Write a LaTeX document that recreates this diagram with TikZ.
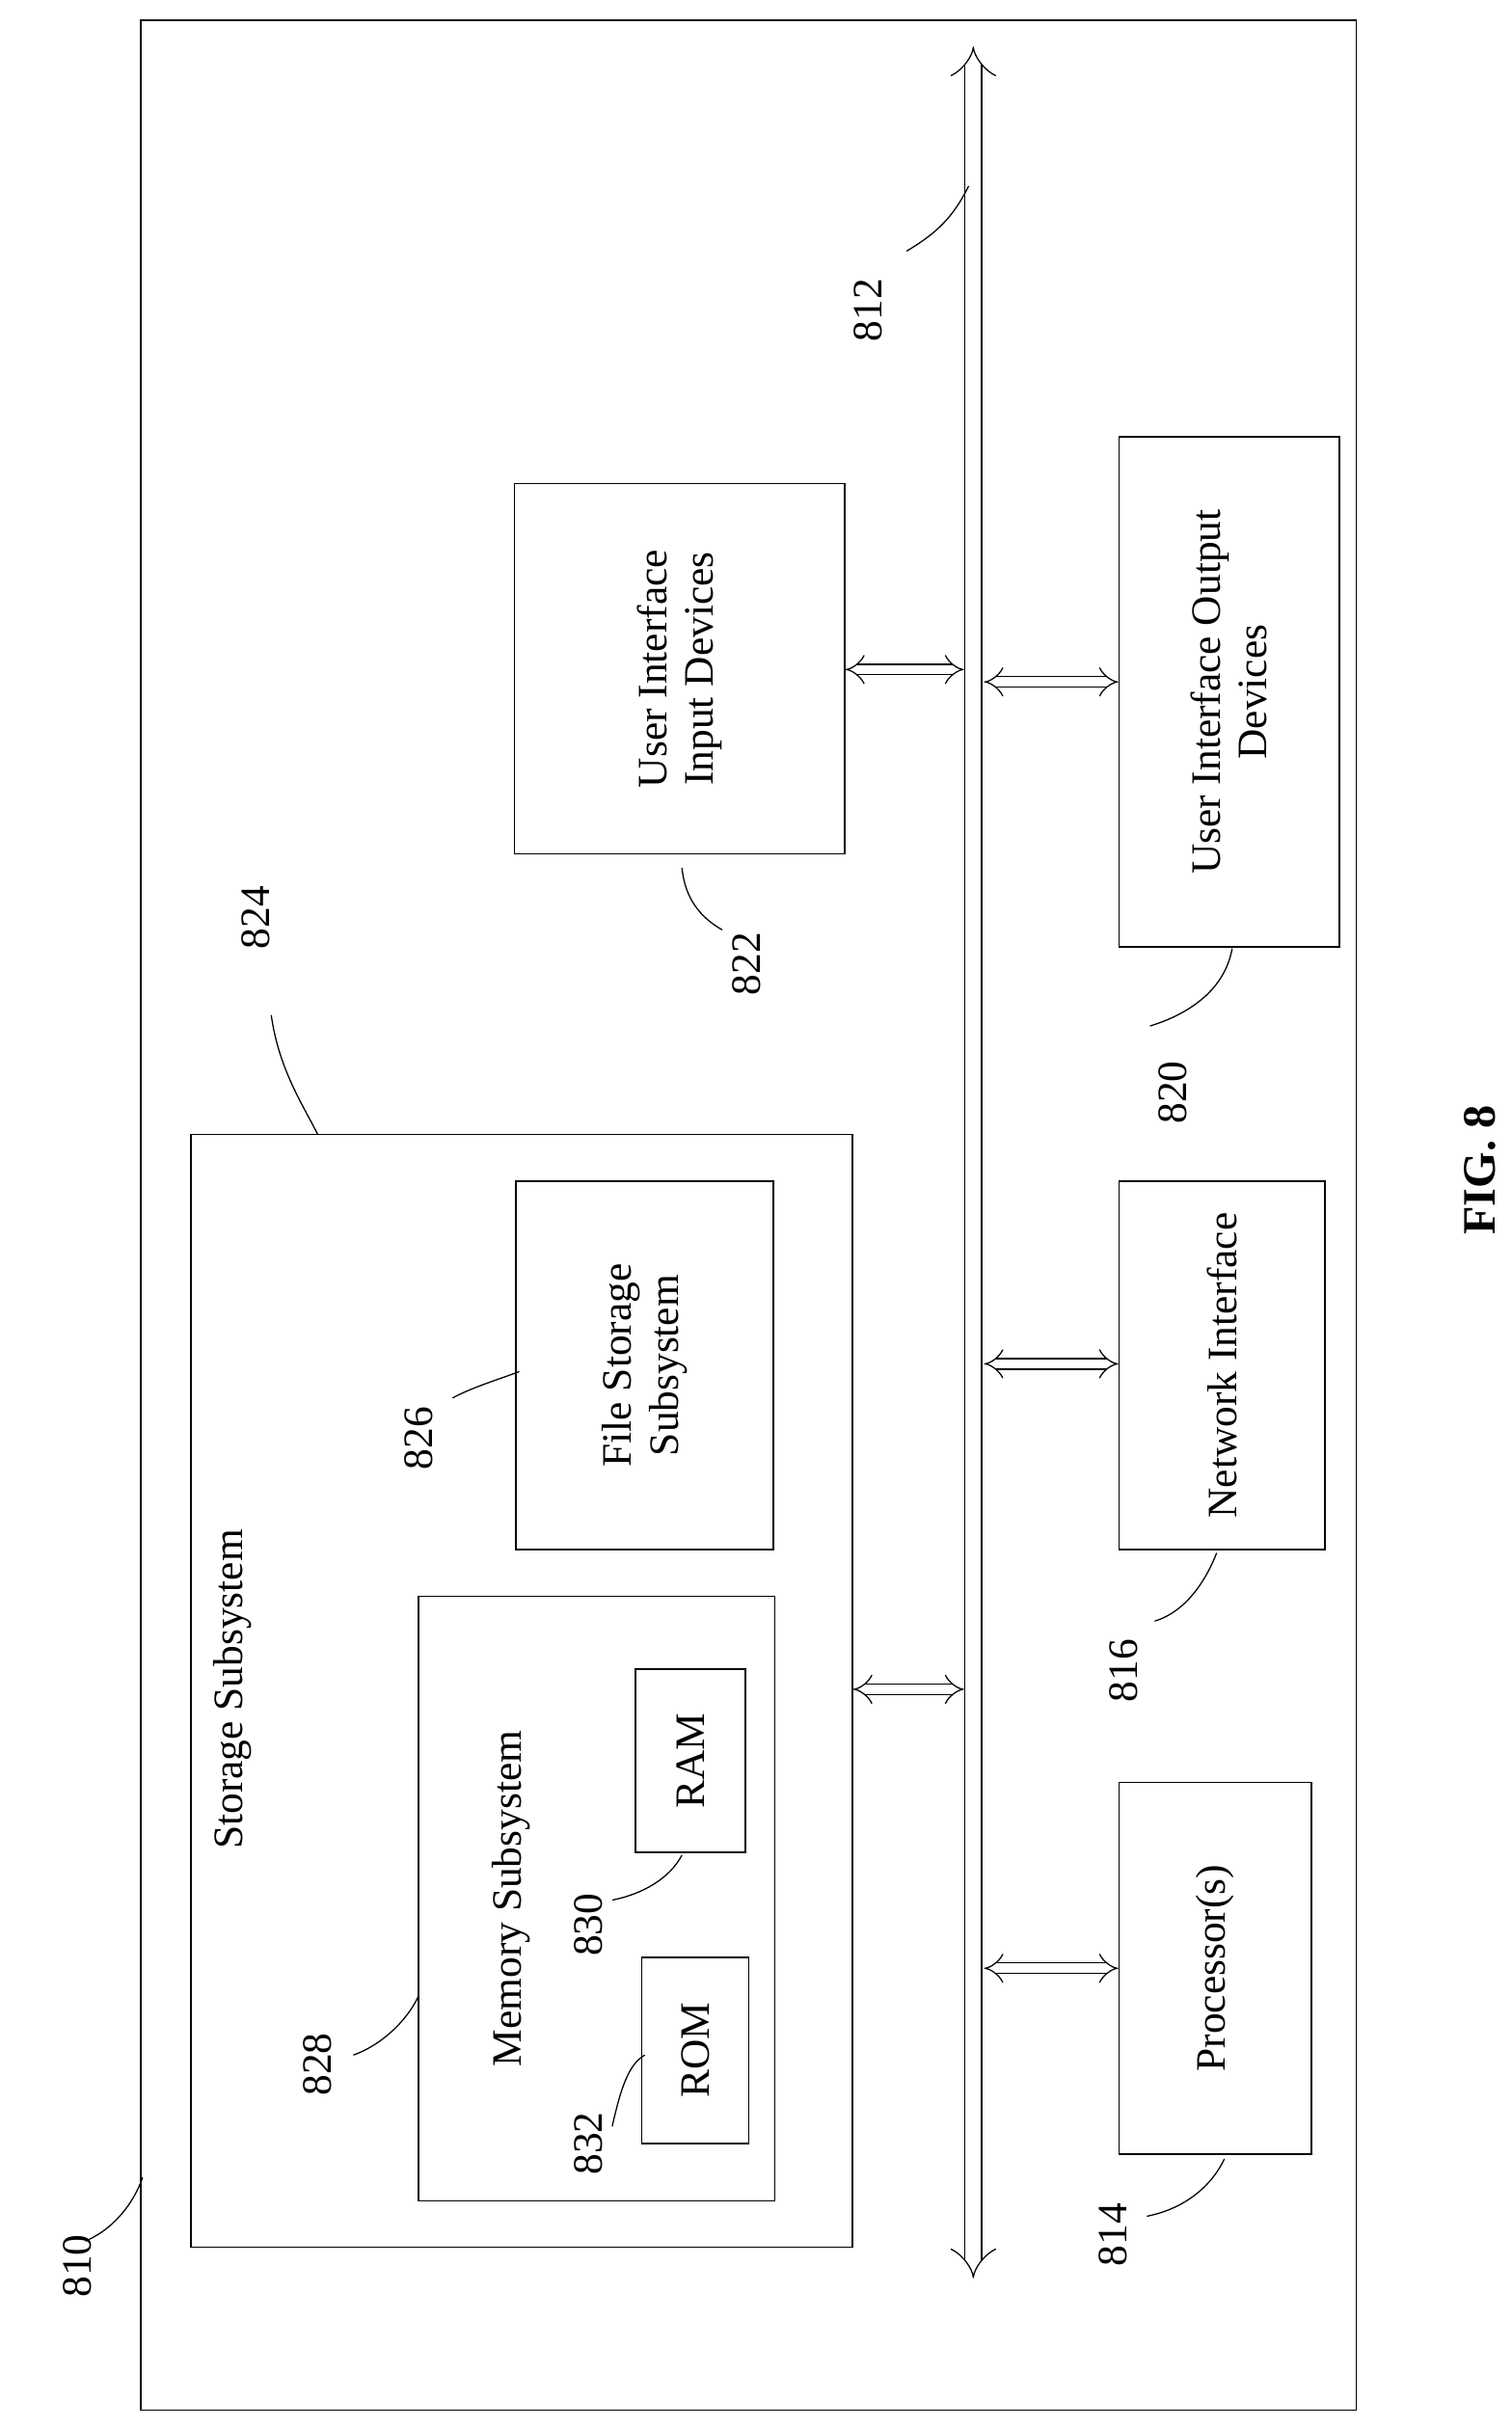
\documentclass[tikz,border=0pt]{standalone}
\usepackage{fontspec}
\setmainfont{Liberation Serif}
\usetikzlibrary{arrows.meta}
\tikzset{
  box/.style={draw=black,line width=1pt},
  lbl/.style={rotate=90,font=\fontsize{27}{30}\selectfont,align=center},
  link/.style={double,double distance=6pt,line width=0.8pt,{Implies}-{Implies}},
  lead/.style={line width=0.8pt}
}
\begin{document}
\begin{tikzpicture}[x=1pt,y=-1pt]
        \useasboundingbox (0,0) rectangle (975,1566);
        \draw[box] (91,13) rectangle (875,1555);
        % bus
        \coordinate (bt) at (628,30);
        \coordinate (bb) at (628,1470);
        \draw[double,double distance=10pt,line width=0.8pt,{Implies}-{Implies}] (bt) -- (bb);

        \node[box,minimum width=213,minimum height=239] (in) at (438.5,431.5) {};
        \node[lbl] at (in) {User Interface\\Input Devices};
        \node[box,minimum width=142,minimum height=329] (out) at (793,446.5) {};
        \node[lbl] at (out) {User Interface Output\\Devices};
        \node[box,minimum width=427,minimum height=718] (st) at (336.5,1091) {};
        \node[lbl] at (150,1090) {Storage Subsystem};
        \node[box,minimum width=166,minimum height=238] (fs) at (416,881) {};
        \node[lbl] at (fs) {File Storage\\Subsystem};
        \node[box,minimum width=230,minimum height=390] (mem) at (385,1225) {};
        \node[lbl] at (330,1225) {Memory Subsystem};
        \node[box,minimum width=71,minimum height=118] (ram) at (445.5,1136) {};
        \node[lbl] at (ram) {RAM};
        \node[box,minimum width=69,minimum height=120] (rom) at (448.5,1323) {};
        \node[lbl] at (rom) {ROM};
        \node[box,minimum width=133,minimum height=238] (net) at (788.5,881) {};
        \node[lbl] at (net) {Network Interface};
        \node[box,minimum width=124,minimum height=240] (proc) at (784,1270) {};
        \node[lbl] at (proc) {Processor(s)};

        % links to bus
        \draw[link] (in.east |- 0,432) -- (622,432);
        \draw[link] (635,440) -- (out.west |- 0,440);
        \draw[link] (st.east |- 0,1090) -- (622,1090);
        \draw[link] (635,880) -- (net.west |- 0,880);
        \draw[link] (635,1270) -- (proc.west |- 0,1270);

        % reference numerals
        \node[lbl] (n812) at (560,200) {812};
        \node[lbl] (n822) at (482,622) {822};
        \node[lbl] (n820) at (757,705) {820};
        \node[lbl] (n824) at (165,592) {824};
        \node[lbl] (n826) at (270,928) {826};
        \node[lbl] (n828) at (205,1332) {828};
        \node[lbl] (n830) at (380,1242) {830};
        \node[lbl] (n832) at (380,1383) {832};
        \node[lbl] (n816) at (725,1078) {816};
        \node[lbl] (n814) at (718,1442) {814};
        \node[lbl] (n810) at (50,1462) {810};
        \node[rotate=90,font=\fontsize{30}{34}\selectfont\bfseries] (fig) at (955,755) {FIG. 8};

        \draw[lead] (585,162) .. controls (605,150) and (615,140) .. (625,120);
        \draw[lead] (440,560) .. controls (442,580) and (452,592) .. (466,600);
        \draw[lead] (742,662) .. controls (765,655) and (790,640) .. (795,612);
        \draw[lead] (175,655) .. controls (180,690) and (195,712) .. (205,732);
        \draw[lead] (292,902) .. controls (305,895) and (322,890) .. (335,885);
        \draw[lead] (228,1326) .. controls (245,1320) and (262,1305) .. (270,1288);
        \draw[lead] (395,1226) .. controls (415,1222) and (432,1212) .. (440,1197);
        \draw[lead] (395,1372) .. controls (400,1350) and (405,1332) .. (416,1326);
        \draw[lead] (745,1046) .. controls (765,1040) and (778,1020) .. (785,1002);
        \draw[lead] (740,1430) .. controls (765,1425) and (782,1410) .. (790,1393);
        \draw[lead] (55,1446) .. controls (70,1440) and (85,1425) .. (92,1405);
\end{tikzpicture}
\end{document}
